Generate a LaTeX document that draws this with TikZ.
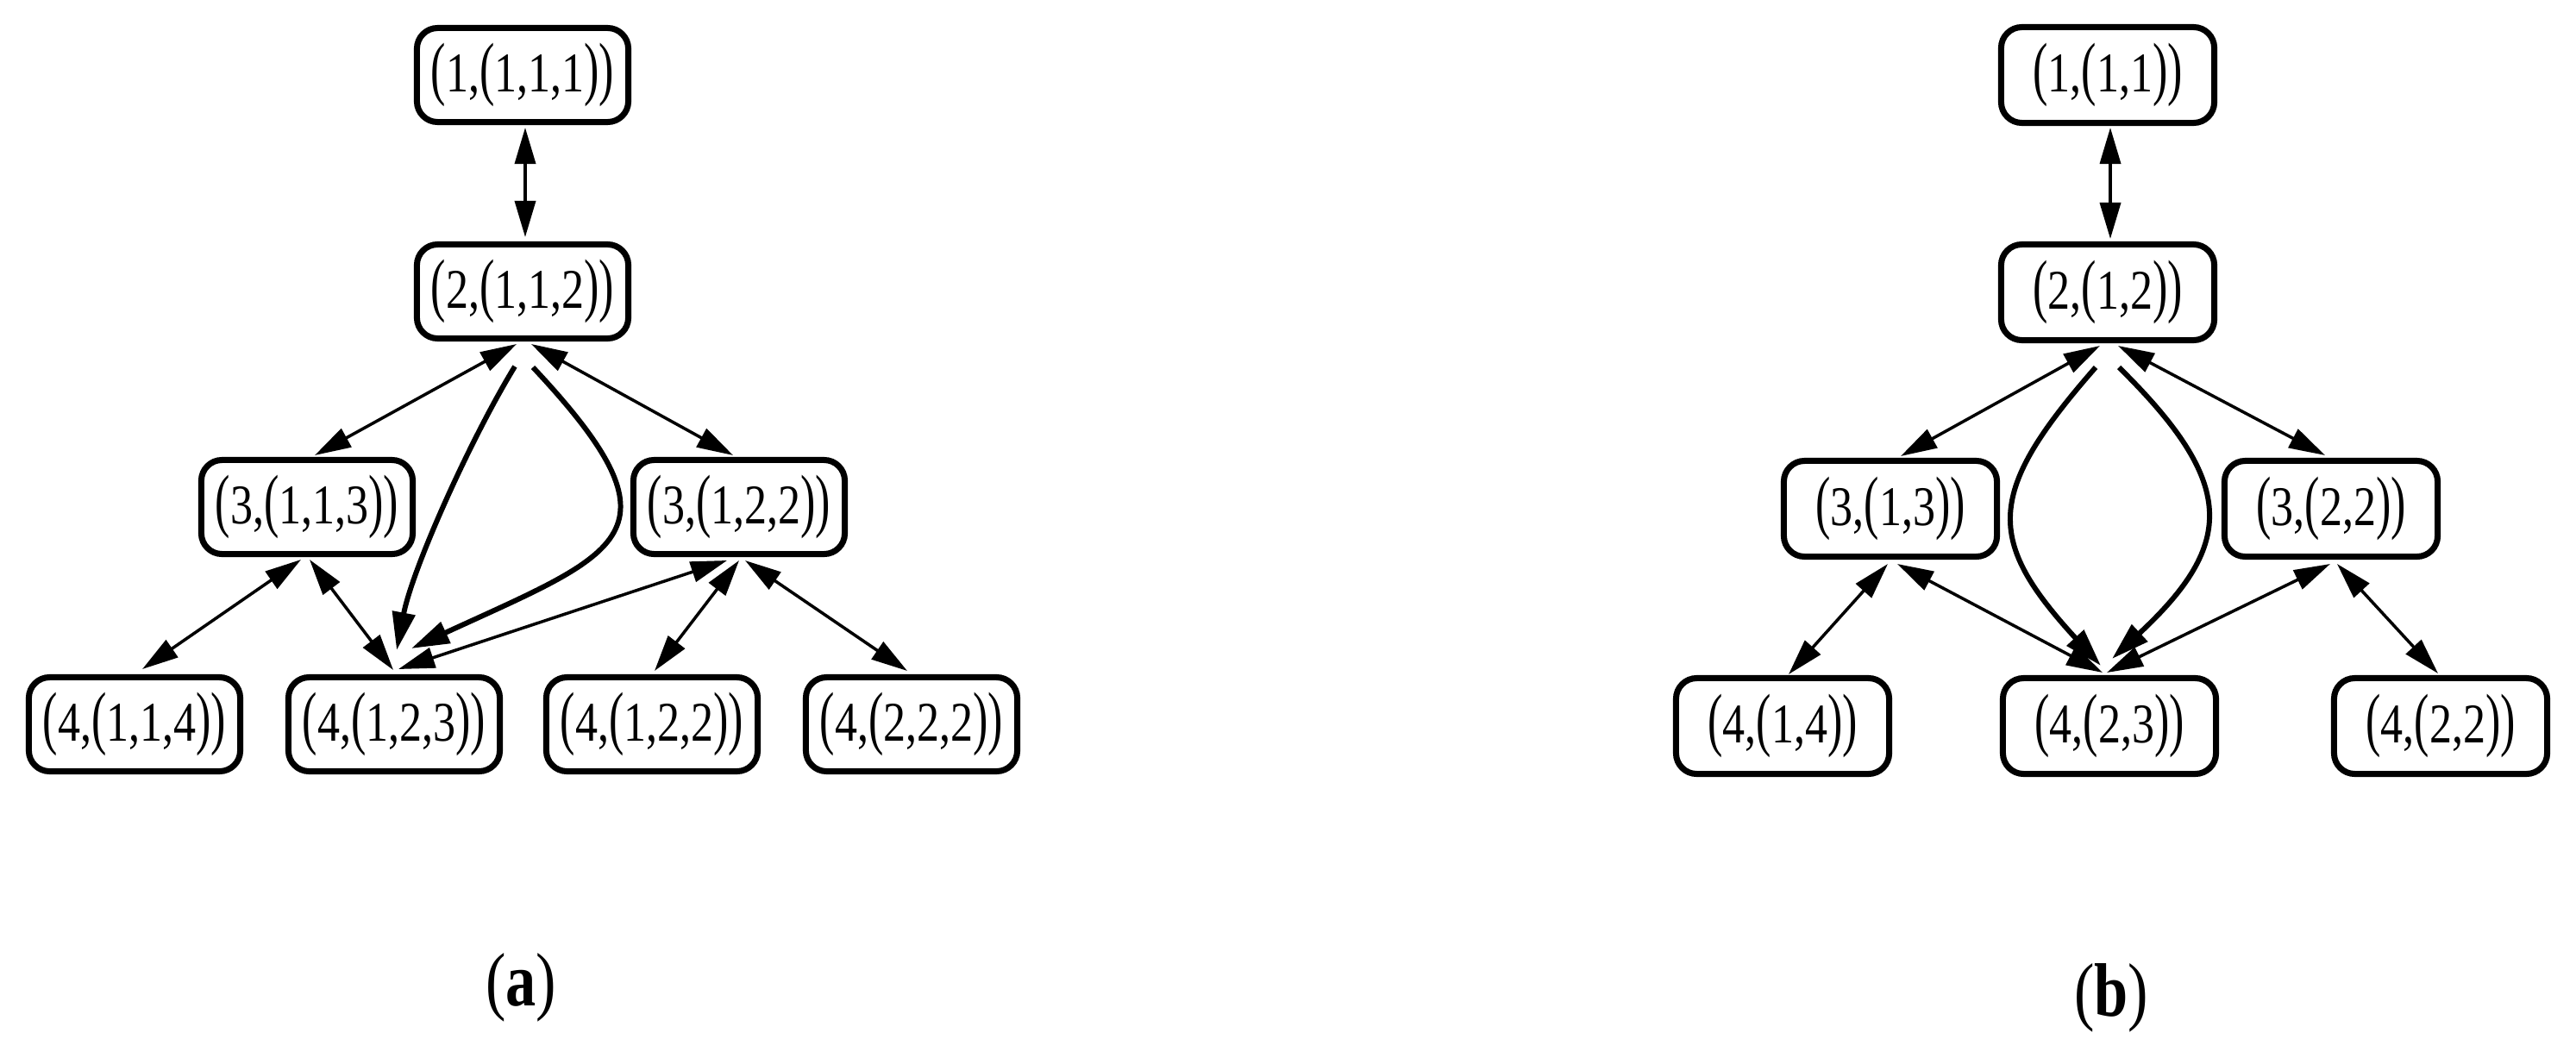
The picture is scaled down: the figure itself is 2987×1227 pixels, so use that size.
\documentclass[tikz,border=0pt]{standalone}
\usepackage{fontspec}
\setmainfont[FakeStretch=0.80]{Liberation Serif}
\usepackage{graphicx}
\usetikzlibrary{arrows.meta,calc}
\newcommand{\lpar}{\scalebox{1}[1.25]{(}}
\newcommand{\rpar}{\scalebox{1}[1.25]{)}}
\tikzset{
  state/.style={draw, line width=2pt, rounded corners=0.24cm, minimum width=2.45cm,
    minimum height=1.09cm, inner sep=0pt, font=\fontsize{18.5}{22}\selectfont},
  statewide/.style={state, minimum width=2.47cm, minimum height=1.11cm},
  bi/.style={line width=1pt, {Triangle[length=4.2mm,width=2.4mm]}-{Triangle[length=4.2mm,width=2.4mm]}},
  uni/.style={line width=1.7pt, -{Triangle[length=4.4mm,width=2.6mm]}},
  captext/.style={font=\fontsize{25}{28}\selectfont}
}
\begin{document}
\begin{tikzpicture}[x={(0.01cm,0)}, y={(0,-0.01cm)}]
\useasboundingbox (0,0) rectangle (2987,1227);
% ---------- panel (a)
\node[state] (A1) at (606,87)  {\lpar1,\lpar1,1,1\rpar\rpar};
\node[state] (A2) at (606,338) {\lpar2,\lpar1,1,2\rpar\rpar};
\node[state] (A3) at (356,588) {\lpar3,\lpar1,1,3\rpar\rpar};
\node[state] (A4) at (857,588) {\lpar3,\lpar1,2,2\rpar\rpar};
\node[state] (A5) at (156,840) {\lpar4,\lpar1,1,4\rpar\rpar};
\node[state] (A6) at (457,840) {\lpar4,\lpar1,2,3\rpar\rpar};
\node[state] (A7) at (756,840) {\lpar4,\lpar1,2,2\rpar\rpar};
\node[state] (A8) at (1057,840) {\lpar4,\lpar2,2,2\rpar\rpar};

\draw[bi] ($(A1)+(3,61)$) -- ($(A2)+(3,-63)$);
\draw[bi] ($(A2)+(-7,61)$) -- ($(A3)+(9,-60)$);
\draw[bi] ($(A2)+(10,61)$) -- ($(A4)+(-7,-60)$);
\draw[uni] ($(A2)+(-9,87)$) .. controls +(-52,85) and +(18,-94) .. ($(A6)+(3,-86)$);
\draw[uni] ($(A2)+(12,88)$) .. controls +(182,194) and +(243,-112) .. ($(A6)+(20,-88)$);
\draw[bi] ($(A3)+(-7,61)$) -- ($(A5)+(9,-64)$);
\draw[bi] ($(A3)+(3,61)$) -- ($(A6)+(-1,-63)$);
\draw[bi] ($(A4)+(-14,62)$) -- ($(A6)+(5,-64)$);
\draw[bi] ($(A4)+(0,62)$) -- ($(A7)+(3,-62)$);
\draw[bi] ($(A4)+(7,62)$) -- ($(A8)+(-5,-62)$);

% ---------- panel (b)
\node[statewide] (B1) at (2444,87)  {\lpar1,\lpar1,1\rpar\rpar};
\node[statewide] (B2) at (2444,339) {\lpar2,\lpar1,2\rpar\rpar};
\node[statewide] (B3) at (2192,590) {\lpar3,\lpar1,3\rpar\rpar};
\node[statewide] (B4) at (2703,590) {\lpar3,\lpar2,2\rpar\rpar};
\node[statewide] (B5) at (2067,842) {\lpar4,\lpar1,4\rpar\rpar};
\node[statewide] (B6) at (2446,842) {\lpar4,\lpar2,3\rpar\rpar};
\node[statewide] (B7) at (2830,842) {\lpar4,\lpar2,2\rpar\rpar};

\draw[bi] ($(B1)+(3,61)$) -- ($(B2)+(3,-62)$);
\draw[bi] ($(B2)+(-9,62)$) -- ($(B3)+(12,-61)$);
\draw[bi] ($(B2)+(12,62)$) -- ($(B4)+(-7,-62)$);
\draw[uni] ($(B2)+(-14,87)$) .. controls +(-128,146) and +(-134,-146) .. ($(B6)+(-10,-70)$);
\draw[uni] ($(B2)+(13,87)$) .. controls +(136,134) and +(144,-134) .. ($(B6)+(3,-78)$);
\draw[bi] ($(B3)+(-3,64)$) -- ($(B5)+(7,-60)$);
\draw[bi] ($(B3)+(8,64)$) -- ($(B6)+(-8,-62)$);
\draw[bi] ($(B4)+(-1,64)$) -- ($(B6)+(-3,-62)$);
\draw[bi] ($(B4)+(7,64)$) -- ($(B7)+(-3,-61)$);

% ---------- captions
\node[captext] (capa) at (604,1145) {(\textbf{a})};
\node[captext] (capb) at (2448,1157) {(\textbf{b})};
\end{tikzpicture}
\end{document}
